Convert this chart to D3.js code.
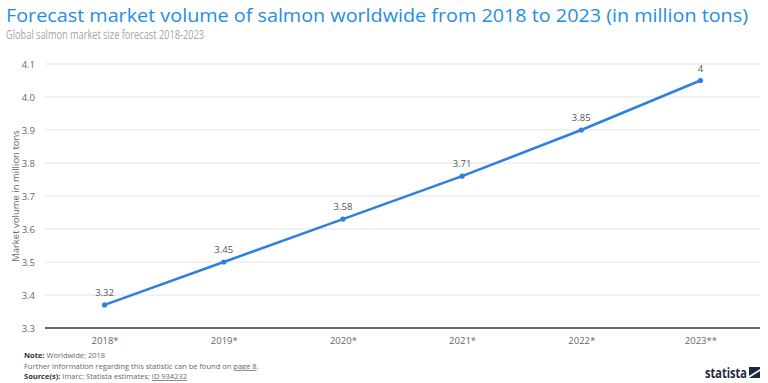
<!DOCTYPE html>
<html><head><meta charset="utf-8">
<script src="https://cdn.jsdelivr.net/npm/d3@7"></script>
<style>body{margin:0;background:#fff;} svg{display:block;font-family:"Open Sans","Noto Sans",sans-serif;}</style>
</head><body><svg id="c" width="768" height="383"></svg>
<script>
const categories = ["2018*","2019*","2020*","2021*","2022*","2023**"];
const values = [3.32, 3.45, 3.58, 3.71, 3.85, 4];
const valueLabels = ["3.32","3.45","3.58","3.71","3.85","4"];
const tickLabels = ["3.3","3.4","3.5","3.6","3.7","3.8","3.9","4.0","4.1"];

const svg = d3.select("#c");
const L = 45, R = 760, T = 64, B = 328;
// axis labels of the source chart sit 0.05 above the plotted values
const tickVals = tickLabels.map((t,i)=>3.25 + i*0.1);
const x = d3.scalePoint().domain(categories).range([L,R]).padding(0.5);
const y = d3.scaleLinear().domain([3.25,4.05]).range([B,T]);

svg.append("text").attr("x",6).attr("y",21.5).attr("fill","#1f8ee8")
  .attr("font-size",18).attr("textLength",742).attr("lengthAdjust","spacingAndGlyphs")
  .text("Forecast market volume of salmon worldwide from 2018 to 2023 (in million tons)");
svg.append("text").attr("x",6).attr("y",38.5).attr("fill","#a6a6a6")
  .attr("font-size",12.5).attr("textLength",198).attr("lengthAdjust","spacingAndGlyphs")
  .text("Global salmon market size forecast 2018-2023");

// grid
svg.append("g").selectAll("line").data(tickVals.slice(1)).join("line")
  .attr("x1",L).attr("x2",R).attr("y1",d=>y(d)).attr("y2",d=>y(d))
  .attr("stroke","#e3e3e3").attr("stroke-width",1);
svg.append("line").attr("x1",L).attr("x2",R).attr("y1",y(3.25)).attr("y2",y(3.25))
  .attr("stroke","#333").attr("stroke-width",1.5);

const ya = svg.append("g").attr("transform",`translate(${L},0)`)
  .call(d3.axisLeft(y).tickValues(tickVals).tickFormat((d,i)=>tickLabels[i]).tickSize(0).tickPadding(10));
ya.select(".domain").remove();
ya.selectAll("text").attr("fill","#666").attr("font-size",9.5).attr("font-family","Open Sans, sans-serif");

const xa = svg.append("g").attr("transform",`translate(0,${B})`)
  .call(d3.axisBottom(x).tickSize(0).tickPadding(9));
xa.select(".domain").remove();
xa.selectAll("text").attr("fill","#666").attr("font-size",9.5).attr("font-family","Open Sans, sans-serif");

svg.append("text").attr("transform",`translate(19,${(T+B)/2}) rotate(-90)`)
  .attr("text-anchor","middle").attr("fill","#666").attr("font-size",9.5)
  .text("Market volume in million tons");

const line = d3.line().x((d,i)=>x(categories[i])).y(d=>y(d));
svg.append("path").datum(values).attr("d",line).attr("fill","none")
  .attr("stroke","#2e7fe0").attr("stroke-width",2.5);
svg.append("g").selectAll("circle").data(values).join("circle")
  .attr("cx",(d,i)=>x(categories[i])).attr("cy",d=>y(d)).attr("r",2.6).attr("fill","#2e7fe0");
svg.append("g").selectAll("text").data(values).join("text")
  .attr("x",(d,i)=>x(categories[i])).attr("y",d=>y(d)-9).attr("text-anchor","middle")
  .attr("fill","#555").attr("font-size",9.5).text((d,i)=>valueLabels[i]);

// footer
const f = svg.append("g").attr("font-size",7.5).attr("fill","#666");
const n = f.append("text").attr("x",24).attr("y",358);
n.append("tspan").attr("font-weight","bold").attr("fill","#333").text("Note: ");
n.append("tspan").text("Worldwide; 2018");
const fi = f.append("text").attr("x",24).attr("y",369);
fi.append("tspan").text("Further information regarding this statistic can be found on ");
fi.append("tspan").attr("text-decoration","underline").text("page 8");
fi.append("tspan").text(".");
const s = f.append("text").attr("x",24).attr("y",379);
s.append("tspan").attr("font-weight","bold").attr("fill","#333").text("Source(s): ");
s.append("tspan").text("Imarc; Statista estimates; ");
s.append("tspan").attr("text-decoration","underline").text("ID 934232");

svg.append("text").attr("x",705).attr("y",378).attr("font-size",13.5).attr("font-weight","bold")
  .attr("fill","#1e2a3f").attr("textLength",42).attr("lengthAdjust","spacingAndGlyphs").text("statista");
svg.append("path").attr("d","M749,367 L760,367 L760,378 L749,378 Z").attr("fill","#1e2a3f");
svg.append("path").attr("d","M749,376 L760,369 L760,371 L749,378 Z").attr("fill","#fff");
</script></body></html>
